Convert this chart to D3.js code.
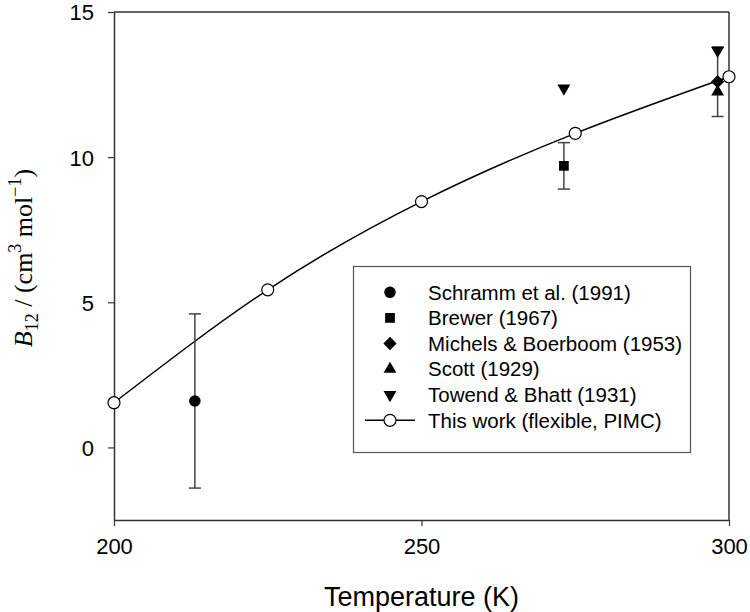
<!DOCTYPE html>
<html>
<head>
<meta charset="utf-8">
<script src="https://cdn.jsdelivr.net/npm/d3@7"></script>
<style>
  html, body { margin: 0; padding: 0; background: #fff; }
  svg { display: block; }
</style>
</head>
<body>
<svg id="chart" width="750" height="612"></svg>
<script>
// ---- data ----
const workT = [200, 225, 250, 275, 300];
const workB = [1.54, 5.43, 8.47, 10.82, 12.77];

const schrammT = [213.15];
const schrammB = [1.6];
const schrammErr = [3.0];

const brewerT = [273.15];
const brewerB = [9.7];
const brewerErr = [0.8];

const michelsT = [298.15];
const michelsB = [12.6];
const michelsErr = [1.2];

const scottT = [298.15];
const scottB = [12.25];

const towendT = [273.15, 298.15];
const towendB = [12.37, 13.67];

const xTicks = [200, 250, 300];
const yTicks = [0, 5, 10, 15];

const legendLabels = [
  "Schramm et al. (1991)",
  "Brewer (1967)",
  "Michels & Boerboom (1953)",
  "Scott (1929)",
  "Towend & Bhatt (1931)",
  "This work (flexible, PIMC)"
];

// ---- layout ----
const W = 750, H = 612;
const m = { left: 114, right: 21, top: 12, bottom: 92 };
const svg = d3.select("#chart");
const x = d3.scaleLinear().domain([200, 300]).range([m.left, W - m.right]);
const y = d3.scaleLinear().domain([-2.5, 15]).range([H - m.bottom, m.top]);

const axisColor = "#333";
const sans = "'Liberation Sans', Arial, sans-serif";

// frame (top & right)
svg.append("line").attr("x1", x(200)).attr("x2", x(300)).attr("y1", y(15)).attr("y2", y(15))
  .attr("stroke", axisColor).attr("stroke-width", 1.5);
svg.append("line").attr("x1", x(300)).attr("x2", x(300)).attr("y1", y(15)).attr("y2", y(-2.5))
  .attr("stroke", axisColor).attr("stroke-width", 1.5);

// axes
const xAxis = svg.append("g").attr("transform", `translate(0,${y(-2.5)})`)
  .call(d3.axisBottom(x).tickValues(xTicks).tickSize(6).tickPadding(12).tickSizeOuter(0));
const yAxis = svg.append("g").attr("transform", `translate(${x(200)},0)`)
  .call(d3.axisLeft(y).tickValues(yTicks).tickSize(6).tickPadding(14).tickSizeOuter(0));
[xAxis, yAxis].forEach(g => {
  g.select(".domain").attr("stroke", axisColor).attr("stroke-width", 1.5);
  g.selectAll(".tick line").attr("stroke", axisColor).attr("stroke-width", 1.2);
  g.selectAll(".tick text").attr("fill", "#000").attr("font-family", sans).attr("font-size", 22);
});
yAxis.selectAll(".tick text").attr("dy", "0.36em");

// axis titles
svg.append("text").attr("x", (x(200) + x(300)) / 2).attr("y", 606)
  .attr("text-anchor", "middle").attr("font-family", sans).attr("font-size", 27)
  .attr("fill", "#000").text("Temperature (K)");

const yt = svg.append("text")
  .attr("transform", `translate(32,${258}) rotate(-90)`)
  .attr("text-anchor", "middle")
  .attr("font-family", "'Liberation Serif', 'Times New Roman', serif")
  .attr("font-size", 26).attr("fill", "#000");
yt.append("tspan").attr("font-style", "italic").text("B");
yt.append("tspan").attr("font-size", 18).attr("dy", 6).text("12");
yt.append("tspan").attr("dy", -6).text(" / (cm");
yt.append("tspan").attr("font-size", 18).attr("dy", -11).text("3");
yt.append("tspan").attr("dy", 11).text(" mol");
yt.append("tspan").attr("font-size", 18).attr("dy", -11).text("\u22121");
yt.append("tspan").attr("dy", 11).text(")");

// curve
const workData = workT.map((t, i) => ({ t, b: workB[i] }));
svg.append("path").datum(workData)
  .attr("d", d3.line().x(d => x(d.t)).y(d => y(d.b)).curve(d3.curveNatural))
  .attr("fill", "none").attr("stroke", "#000").attr("stroke-width", 1.5);

// error bars
const errData = [];
schrammT.forEach((t, i) => errData.push({ t, b: schrammB[i], e: schrammErr[i] }));
brewerT.forEach((t, i) => errData.push({ t, b: brewerB[i], e: brewerErr[i] }));
michelsT.forEach((t, i) => errData.push({ t, b: michelsB[i], e: michelsErr[i] }));
const eb = svg.append("g").attr("stroke", "#444").attr("stroke-width", 1.5);
errData.forEach(d => {
  eb.append("line").attr("x1", x(d.t)).attr("x2", x(d.t)).attr("y1", y(d.b - d.e)).attr("y2", y(d.b + d.e));
  [d.b - d.e, d.b + d.e].forEach(v => {
    eb.append("line").attr("x1", x(d.t) - 6).attr("x2", x(d.t) + 6).attr("y1", y(v)).attr("y2", y(v));
  });
});

// symbols
const sym = {
  circle: { type: d3.symbolCircle, size: 105, rot: 0 },
  square: { type: d3.symbolSquare, size: 95, rot: 0 },
  diamond: { type: d3.symbolSquare, size: 88, rot: 45 },
  up: { type: d3.symbolTriangle, size: 72, rot: 0 },
  down: { type: d3.symbolTriangle, size: 72, rot: 180 }
};
function drawSym(g, s, cx, cy) {
  g.append("path").attr("d", d3.symbol().type(s.type).size(s.size)())
    .attr("transform", `translate(${cx},${cy}) rotate(${s.rot})`)
    .attr("fill", "#000");
}
const mk = svg.append("g");
schrammT.forEach((t, i) => drawSym(mk, sym.circle, x(t), y(schrammB[i])));
brewerT.forEach((t, i) => drawSym(mk, sym.square, x(t), y(brewerB[i])));
scottT.forEach((t, i) => drawSym(mk, sym.up, x(t), y(scottB[i])));
michelsT.forEach((t, i) => drawSym(mk, sym.diamond, x(t), y(michelsB[i])));
towendT.forEach((t, i) => drawSym(mk, sym.down, x(t), y(towendB[i])));

// open circles
svg.append("g").selectAll("circle").data(workData).join("circle")
  .attr("cx", d => x(d.t)).attr("cy", d => y(d.b)).attr("r", 6)
  .attr("fill", "#fff").attr("stroke", "#000").attr("stroke-width", 1.2);

// legend
const lg = svg.append("g");
const lx = 353.5, ly = 266.5, lw = 337, lh = 186;
lg.append("rect").attr("x", lx).attr("y", ly).attr("width", lw).attr("height", lh)
  .attr("fill", "#fff").attr("stroke", "#555").attr("stroke-width", 1.2);
const legSyms = [sym.circle, sym.square, sym.diamond, sym.up, sym.down, null];
const rowH = 25.6;
legendLabels.forEach((lab, i) => {
  const cy = 292.3 + rowH * i;
  if (legSyms[i]) {
    drawSym(lg, legSyms[i], 390, cy);
  } else {
    lg.append("line").attr("x1", 365).attr("x2", 415).attr("y1", cy).attr("y2", cy)
      .attr("stroke", "#000").attr("stroke-width", 1.5);
    lg.append("circle").attr("cx", 390).attr("cy", cy).attr("r", 6)
      .attr("fill", "#fff").attr("stroke", "#000").attr("stroke-width", 1.2);
  }
  lg.append("text").attr("x", 428).attr("y", cy).attr("dy", "0.36em")
    .attr("font-family", sans).attr("font-size", 20.5).attr("fill", "#000").text(lab);
});
</script>
</body>
</html>
